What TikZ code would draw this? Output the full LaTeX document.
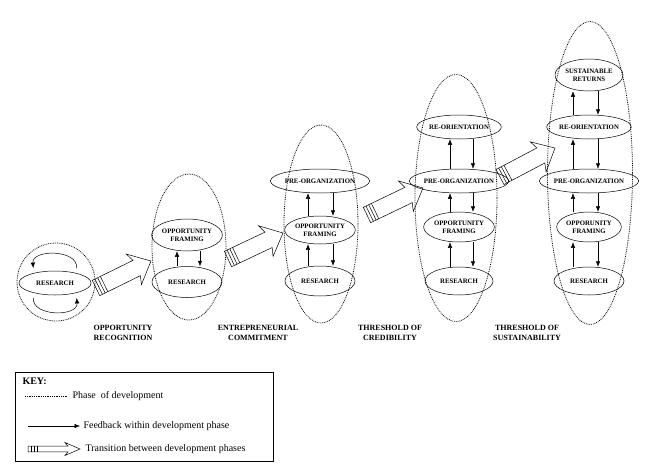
\documentclass[tikz,border=0pt]{standalone}
\usepackage{fontspec}
\setmainfont{Liberation Serif}
\usetikzlibrary{shapes.geometric, arrows.meta, calc}

\tikzset{
  phase/.style={draw, ellipse, densely dotted, line width=0.8pt, inner sep=0pt},
  stage/.style={draw, ellipse, inner sep=0pt, line width=0.5pt, align=center,
    font=\fontsize{6.8}{8}\selectfont\bfseries},
  fb/.style={-{Latex[length=5.5pt,width=4.5pt]}, line width=0.5pt},
  trans/.style={line width=0.5pt},
  milestone/.style={align=center, font=\fontsize{8}{10.5}\selectfont\bfseries},
  keytext/.style={anchor=west, font=\fontsize{10}{12}\selectfont},
}

% tail, tip, half shaft, half head, head length
\newcommand\transarrow[5]{%
  \path let \p1=($(#2)-(#1)$) in
    \pgfextra{\pgfmathsetmacro\tmpang{atan2(\y1,\x1)}\xdef\arrang{\tmpang}%
              \pgfmathsetmacro\tmplen{veclen(\x1,\y1)}\xdef\arrlen{\tmplen}};
  \begin{scope}[shift={(#1)},rotate=\arrang]
    \draw[trans] (0pt,#3) -- (\arrlen pt-#5,#3) -- (\arrlen pt-#5-3pt,#4)
      -- (\arrlen pt,0pt) -- (\arrlen pt-#5-3pt,-#4) -- (\arrlen pt-#5,-#3)
      -- (0pt,-#3) -- cycle;
    \foreach \s in {3pt,6pt,9pt}
      \draw[trans] (\s,#3) -- (\s,-#3);
  \end{scope}}

\begin{document}
\begin{tikzpicture}[x=1pt, y=-1pt]
\useasboundingbox (0,0) rectangle (645,466);

% phases of development
\node[phase, minimum width=78pt, minimum height=78pt] (p1) at (56,282) {};
\node[phase, minimum width=74pt, minimum height=146pt] (p2) at (189,247) {};
\node[phase, minimum width=74pt, minimum height=198pt] (p3) at (321,224) {};
\node[phase, minimum width=82pt, minimum height=247pt] (p4) at (456,198) {};
\node[phase, minimum width=85pt, minimum height=303pt] (p5) at (590,173) {};

% stages
\node[stage, minimum width=72pt, minimum height=24pt] (r1) at (55,283) {RESEARCH};

\node[stage, minimum width=62pt, minimum height=32pt] (of2) at (187,235) {OPPORTUNITY\\FRAMING};
\node[stage, minimum width=70pt, minimum height=31pt] (r2) at (187,282) {RESEARCH};

\node[stage, minimum width=74pt, minimum height=24pt] (po3) at (320,181) {PRE-ORGANIZATION};
\node[stage, minimum width=66pt, minimum height=28pt] (of3) at (320,230) {OPPORTUNITY\\FRAMING};
\node[stage, minimum width=70pt, minimum height=30pt] (r3) at (320,281) {RESEARCH};

\node[stage, minimum width=70pt, minimum height=24pt] (ro4) at (459,127) {RE-ORIENTATION};
\node[stage, minimum width=76pt, minimum height=24pt] (po4) at (459,181) {PRE-ORGANIZATION};
\node[stage, minimum width=64pt, minimum height=30pt] (of4) at (459,227) {OPPORTUNITY\\FRAMING};
\node[stage, minimum width=68pt, minimum height=28pt] (r4) at (459,281) {RESEARCH};

\node[stage, minimum width=68pt, minimum height=32pt] (sr5) at (589,75) {SUSTAINABLE\\RETURNS};
\node[stage, minimum width=70pt, minimum height=24pt] (ro5) at (589,127) {RE-ORIENTATION};
\node[stage, minimum width=76pt, minimum height=24pt] (po5) at (589,181) {PRE-ORGANIZATION};
\node[stage, minimum width=64pt, minimum height=30pt] (of5) at (589,227) {OPPORUNITY\\FRAMING};
\node[stage, minimum width=70pt, minimum height=28pt] (r5) at (589,281) {RESEARCH};

% feedback in the first phase
\draw[fb, shorten <=5pt, shorten >=5pt] (r1.25) .. controls +(2,-24) and +(-2,-24) .. (r1.155);
\draw[fb, shorten <=5pt, shorten >=5pt] (r1.205) .. controls +(-2,24) and +(2,24) .. (r1.335);

% feedback within the other phases
\foreach \lo/\hi/\du/\dd in {r2/of2/-10/13, r3/of3/-12/13, of3/po3/-12/13,
    r4/of4/-9/14, of4/po4/-9/14, po4/ro4/-9/14,
    r5/of5/-16/9, of5/po5/-16/9, po5/ro5/-16/9, ro5/sr5/-16/9}{
  \draw[fb] ([xshift=\du pt]\lo.north) -- ([xshift=\du pt]\hi.south);
  \draw[fb] ([xshift=\dd pt]\hi.south) -- ([xshift=\dd pt]\lo.north);
}

% transitions
\coordinate (t1) at (96,288);  \coordinate (h1) at (151,261);
\coordinate (t2) at (228,259); \coordinate (h2) at (283,233);
\coordinate (t3) at (367,215); \coordinate (h3) at (423,188);
\coordinate (t4) at (500,177); \coordinate (h4) at (555,148);
\foreach \i in {1,...,4}
  \transarrow{t\i}{h\i}{8.5pt}{17pt}{16pt};

% milestones
\node[milestone] (m1) at (123,333) {OPPORTUNITY\\RECOGNITION};
\node[milestone] (m2) at (258,333) {ENTREPRENEURIAL\\COMMITMENT};
\node[milestone] (m3) at (390,333) {THRESHOLD OF\\CREDIBILITY};
\node[milestone] (m4) at (527,333) {THRESHOLD OF\\SUSTAINABILITY};

% key
\draw[line width=0.5pt] (15,372) rectangle (273,461);
\node[keytext, font=\fontsize{10}{12}\selectfont\bfseries] (key) at (19,381) {KEY:};
\coordinate (k1a) at (25,396); \coordinate (k1b) at (68,396);
\draw[densely dotted, line width=0.8pt] (k1a) -- (k1b);
\node[keytext] (k1) at (69,396) {Phase\ \ of development};
\coordinate (k2a) at (28,426); \coordinate (k2b) at (80,426);
\draw[fb] (k2a) -- (k2b);
\node[keytext] (k2) at (80,426) {Feedback within development phase};
\coordinate (k3a) at (28,449); \coordinate (k3b) at (80,449);
\transarrow{k3a}{k3b}{2.8pt}{6.5pt}{12pt}
\node[keytext] (k3) at (82,449) {Transition between development phases};
\end{tikzpicture}
\end{document}
